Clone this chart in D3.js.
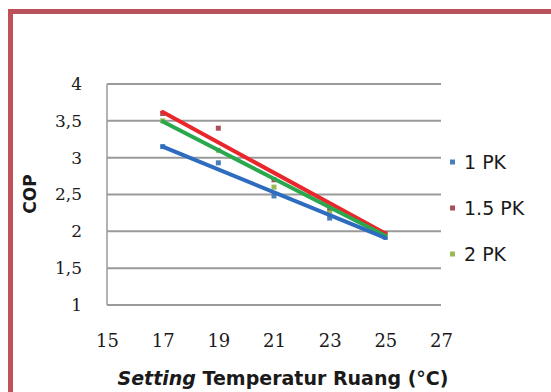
<!DOCTYPE html>
<html><head><meta charset="utf-8">
<script src="https://cdn.jsdelivr.net/npm/d3@7"></script>
<style>html,body{margin:0;padding:0;background:#fff;}svg{display:block;}</style>
</head><body>
<script>
const xTicks = [15, 17, 19, 21, 23, 25, 27];
const yTicks = [1, 1.5, 2, 2.5, 3, 3.5, 4];
const yTickLabels = ["1", "1,5", "2", "2,5", "3", "3,5", "4"];
const temps = [17, 19, 21, 23, 25];
const series = ["1 PK", "1.5 PK", "2 PK"];
const pk1 = [3.15, 2.93, 2.48, 2.18, 1.92];
const pk15 = [3.6, 3.40, 2.7, 2.3, 1.97];
const pk2 = [3.5, 3.1, 2.6, 2.25, 1.95];
const trendX = [17, 25];
const trend1 = [3.15, 1.91];
const trend15 = [3.62, 1.97];
const trend2 = [3.49, 1.94];
const markerColors = ["#4a7ebb", "#a9505a", "#98b954"];
const lineColors = ["#2e6cc0", "#e8262c", "#2aa84e"];

const W = 551, H = 392;
const svg = d3.select("body").append("svg").attr("width", W).attr("height", H);

// frame
svg.append("rect").attr("x", 8).attr("y", 9).attr("width", W - 8).attr("height", 5).attr("fill", "#b9525a");
svg.append("rect").attr("x", 8).attr("y", 9).attr("width", 5).attr("height", H - 9).attr("fill", "#c0505a");

const x = d3.scaleLinear().domain([15, 27]).range([107, 441]);
const y = d3.scaleLinear().domain([1, 4]).range([305, 84]);

// gridlines
svg.append("g").selectAll("line").data(yTicks).join("line")
  .attr("x1", 107).attr("x2", 441)
  .attr("y1", d => y(d)).attr("y2", d => y(d))
  .attr("stroke", "#9a9a9a").attr("stroke-width", 2);
svg.append("line").attr("x1", 107).attr("x2", 107).attr("y1", y(4)).attr("y2", y(1))
  .attr("stroke", "#9a9a9a").attr("stroke-width", 1.5);

// y axis labels
const yAxis = d3.axisLeft(y).tickValues(yTicks).tickFormat((d, i) => yTickLabels[i]).tickSize(0).tickPadding(25);
const gy = svg.append("g").attr("transform", "translate(107,0)").call(yAxis);
gy.select(".domain").remove();
gy.selectAll("text").attr("font-family", "DejaVu Serif, serif").attr("font-size", 17).attr("fill", "#1a1a1a");

// x axis labels
const xAxis = d3.axisBottom(x).tickValues(xTicks).tickSize(0).tickPadding(0);
const gx = svg.append("g").attr("transform", "translate(0,305)").call(xAxis);
gx.select(".domain").remove();
gx.selectAll("text").attr("font-family", "DejaVu Serif, serif").attr("font-size", 18).attr("fill", "#1a1a1a")
  .attr("y", 42).attr("dy", null);

// axis titles
svg.append("text").attr("transform", "translate(36,194) rotate(-90)")
  .attr("text-anchor", "middle").attr("font-family", "DejaVu Sans, sans-serif").attr("font-weight", "bold")
  .attr("font-size", 17).attr("fill", "#1a1a1a").text("COP");
const xt = svg.append("text").attr("x", 283).attr("y", 385).attr("text-anchor", "middle")
  .attr("font-family", "DejaVu Sans, sans-serif").attr("font-weight", "bold").attr("font-size", 19).attr("fill", "#1a1a1a");
xt.append("tspan").attr("font-style", "italic").text("Setting");
xt.append("tspan").text(" Temperatur Ruang (°C)");

// markers
const allData = [pk1, pk15, pk2];
allData.forEach((vals, i) => {
  svg.append("g").selectAll("rect").data(vals).join("rect")
    .attr("x", (d, j) => x(temps[j]) - 2.5).attr("y", d => y(d) - 2.5)
    .attr("width", 5).attr("height", 5).attr("fill", markerColors[i]);
});

// trend lines
const trends = [trend1, trend15, trend2];
const line = d3.line().x((d, j) => x(trendX[j])).y(d => y(d));
[1, 2, 0].forEach(i => {
  svg.append("path").datum(trends[i]).attr("d", line)
    .attr("fill", "none").attr("stroke", lineColors[i]).attr("stroke-width", 4).attr("stroke-linecap", "round");
});

// legend
const legY = [162, 208, 254];
const leg = svg.append("g");
series.forEach((s, i) => {
  leg.append("rect").attr("x", 450).attr("y", legY[i] - 2.5).attr("width", 5).attr("height", 5).attr("fill", markerColors[i]);
  leg.append("text").attr("x", 464).attr("y", legY[i]).attr("dy", "0.35em")
    .attr("font-family", "DejaVu Sans, sans-serif").attr("font-size", 19).attr("fill", "#1a1a1a").text(s);
});
</script>
</body></html>
